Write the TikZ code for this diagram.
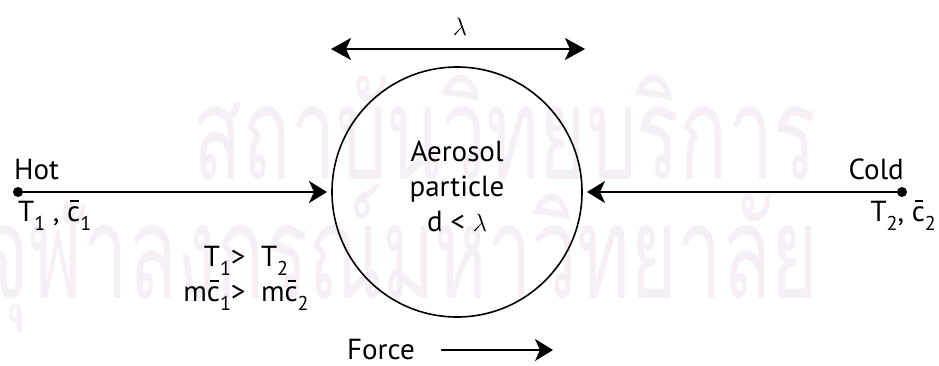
\documentclass[tikz,border=0pt]{standalone}
\usepackage{fontspec}
\setmainfont{PT Sans}
\newfontfamily\thaifont[Script=Thai]{Loma}
\usepackage{tikz}
\usetikzlibrary{arrows.meta,positioning}
\definecolor{wmark}{RGB}{246,239,246}
\newcommand{\lowsub}[1]{\raisebox{-0.6ex}{\fontsize{20}{20}\selectfont #1}}
\newcommand{\cbar}{\leavevmode\rlap{\hspace{0.1em}\rule[0.68em]{0.3em}{0.07em}}c}

\begin{document}
\begin{tikzpicture}[x=1pt,y=-1pt,
    lbl/.style={font=\fontsize{29}{35}\selectfont, inner sep=0pt},
    flow/.style={line width=2pt, -{Stealth[length=18pt,width=22pt,inset=5pt]}},
    pt/.style={circle, fill=black, inner sep=0pt, minimum size=10pt}]
    \useasboundingbox (0,0) rectangle (939,365);
    % watermark behind the drawing
    \node[wmark, font=\thaifont\fontsize{100}{100}\selectfont, inner sep=0pt] (wm1) at (505,128) {\scalebox{0.8}[1.3]{สถาบันวิทยบริการ}};
    \node[wmark, font=\thaifont\fontsize{100}{100}\selectfont, inner sep=0pt] (wm2) at (400,258) {\scalebox{0.8}[1.3]{จุฬาลงกรณ์มหาวิทยาลัย}};
    % particle and gas sides
    \node[draw, circle, line width=1.6pt, minimum size=250pt, outer sep=5pt] (particle) at (457,192) {};
    \node[lbl, align=center] (ptext) at (457,186) {Aerosol\\particle\\d < $\lambda$};
    \node[pt] (hot) at (18,192) {};
    \node[pt] (cold) at (902,192) {};
    \node[lbl, anchor=south west] (hotlbl) at (14,180) {Hot};
    \node[lbl, anchor=south east] (coldlbl) at (904,180) {Cold};
    \node[lbl, anchor=north west] (hotvar) at (18,200) {T\lowsub{1} , \cbar\lowsub{1}};
    \node[lbl, anchor=north east] (coldvar) at (936,200) {T\lowsub{2}, \cbar\lowsub{2}};
    \draw[flow] (hot) -- (particle);
    \draw[flow] (cold) -- (particle);
    % comparison below the hot side
    \node[lbl, align=center] (cmp) at (246,278) {T\lowsub{1}> \ T\lowsub{2}\\m\cbar\lowsub{1}> \ m\cbar\lowsub{2}};
    % mean free path
    \coordinate (lamL) at (331,49);
    \coordinate (lamR) at (585,49);
    \draw[line width=2pt, {Stealth[length=20pt,width=22pt,inset=5pt]}-{Stealth[length=20pt,width=22pt,inset=5pt]}] (lamL) -- (lamR);
    \node[font=\fontsize{28}{28}\selectfont] (lam) at (460,27) {$\lambda$};
    % force direction
    \node[lbl, anchor=west] (force) at (347,350) {Force};
    \coordinate (forceEnd) at (553,350);
    \draw[flow] ([xshift=26pt]force.east) -- (forceEnd);
\end{tikzpicture}
\end{document}
